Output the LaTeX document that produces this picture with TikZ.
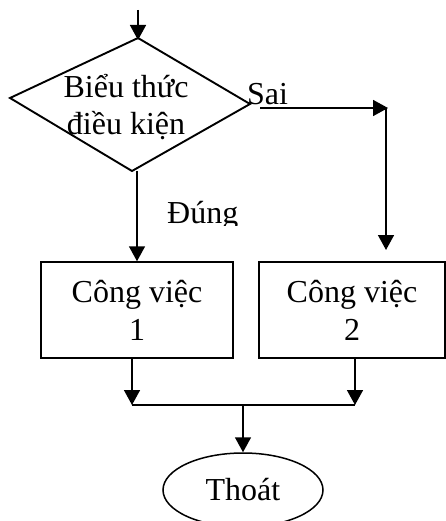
\documentclass[tikz,border=0pt]{standalone}
\usepackage{fontspec}
\setmainfont{Liberation Serif}
\usetikzlibrary{arrows.meta,shapes.geometric}
\tikzset{
  conn/.style={line width=1.6pt},
  arr/.style={conn,-{Triangle[length=15pt,width=16pt]}},
  boxnode/.style={draw,line width=1.5pt,minimum width=192pt,minimum height=96pt,inner sep=0pt,align=center,font=\fontsize{32}{38}\selectfont},
  txt/.style={inner sep=0pt,align=center,font=\fontsize{32}{37}\selectfont},
  ovalnode/.style={draw,ellipse,line width=1.5pt,minimum width=160pt,minimum height=74pt,inner sep=0pt,font=\fontsize{32}{38}\selectfont}
}
\begin{document}
\begin{tikzpicture}[x=1pt,y=-1pt]
\useasboundingbox (0,0) rectangle (446,521);
% diamond
\coordinate (dT) at (138,38);
\coordinate (dR) at (250,104);
\coordinate (dB) at (132,171);
\coordinate (dL) at (10,98);
\draw[line width=1.9pt,line join=miter] (dT) -- (dR) -- (dB) -- (dL) -- cycle;
\node[txt] (dtext) at (126,107) {Biểu thức\\điều kiện};
\coordinate (start) at (138,10);
\coordinate (dtop) at (138,40);
\draw[arr] (start) -- (dtop);
% Sai branch
\node[txt,anchor=base west] (sai) at (247,105) {Sai};
\coordinate (s0) at (260,108);
\coordinate (s1) at (388,108);
\coordinate (s3) at (386,108);
\coordinate (s2) at (386,250);
\draw[arr] (s0) -- (s1);
\draw[arr] (s3) -- (s2);
% Dung branch
\begin{scope}
\clip (150,190) rectangle (250,225);
\node[txt,anchor=base west] (dung) at (167,223) {Đúng};
\end{scope}
% boxes
\node[boxnode] (b1) at (137,310) {Công việc\\1};
\node[boxnode,minimum width=186pt] (b2) at (352,310) {Công việc\\2};
\coordinate (dbot) at (137,171);
\draw[arr] (dbot) -- (b1.north);
% merge
\coordinate (m1) at (132,405);
\coordinate (m2) at (355,405);
\coordinate (mm) at (243,405);
\draw[arr] (b1.south -| m1) -- (m1);
\draw[arr] (b2.south -| m2) -- (m2);
\draw[conn] (m1) -- (m2);
\node[ovalnode] (exit) at (243,490) {Thoát};
\draw[arr] (mm) -- (exit.north);
\end{tikzpicture}
\end{document}
